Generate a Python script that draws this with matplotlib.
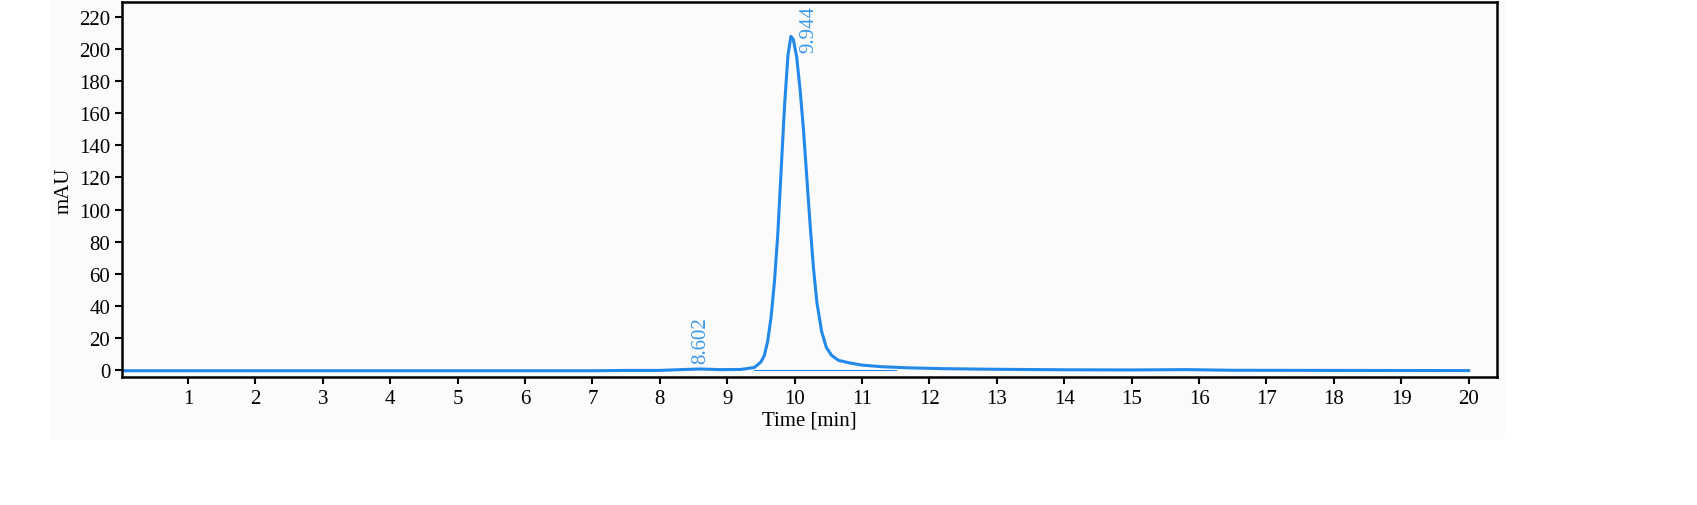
import matplotlib
matplotlib.use("Agg")
import matplotlib.pyplot as plt
from matplotlib.patches import Rectangle

time = [0, 7.0, 7.5, 8.0, 8.3, 8.6, 8.9, 9.2, 9.4, 9.5, 9.55, 9.6, 9.65, 9.7, 9.75, 9.8, 9.85, 9.9, 9.944,
        9.98, 10.03, 10.08, 10.13, 10.18, 10.23, 10.28, 10.33, 10.4, 10.47, 10.55, 10.65, 10.8, 11.0, 11.3,
        11.7, 12.2, 13.0, 14.0, 15.0, 15.8, 16.5, 18.0, 20.0]
signal = [-0.5, -0.5, -0.3, -0.3, 0.2, 0.6, 0.2, 0.3, 1.5, 5, 9, 18, 33, 55, 85, 125, 165, 196, 208,
          206, 195, 175, 150, 120, 90, 63, 42, 24, 14, 9, 6, 4.5, 3, 2, 1.3, 0.8, 0.4, 0.1, 0.0, 0.2, -0.2, -0.3, -0.4]
peak_labels = ["8.602", "9.944"]
peak_times = [8.602, 9.944]
peak_heights = [0.6, 208]
xticks = list(range(1, 21))
yticks = list(range(0, 221, 20))

plt.rcParams['font.family'] = ['Liberation Serif', 'DejaVu Serif']
fig = plt.figure(figsize=(16.97, 5.06), dpi=100)
fig.patches.append(Rectangle((50/1697, 1-440/506), 1455/1697, 440/506, transform=fig.transFigure,
                             facecolor='#fbfbfb', edgecolor='none', zorder=-10))
ax = fig.add_axes([122/1697, 1-378/506, (1497-122)/1697, 375/506])
ax.set_zorder(5)
ax.set_facecolor('#fbfbfb')
blue = '#2389e8'
ax.plot(time, signal, color=blue, lw=2.2)
ax.plot([9.4, 11.5], [0, 0], color=blue, lw=0.8)
ax.text(peak_times[0], peak_heights[0] + 4, peak_labels[0], rotation=90, color='#3b98e6',
        ha='center', va='bottom', fontsize=15)
ax.text(peak_times[1] + 0.12, peak_heights[1] - 10, peak_labels[1], rotation=90, color='#3b98e6',
        ha='left', va='bottom', fontsize=15)
ax.set_xlim(0.02, 20.42)
ax.set_ylim(-4.4, 229.4)
ax.set_xticks(xticks)
ax.set_yticks(yticks)
ax.tick_params(labelsize=15, width=1.5, length=5)
for s in ax.spines.values():
    s.set_linewidth(1.8)
ax.set_xlabel('Time [min]', fontsize=15, labelpad=2)
ax.set_ylabel('mAU', fontsize=15, labelpad=4)
fig.savefig('out.png', dpi=100)
